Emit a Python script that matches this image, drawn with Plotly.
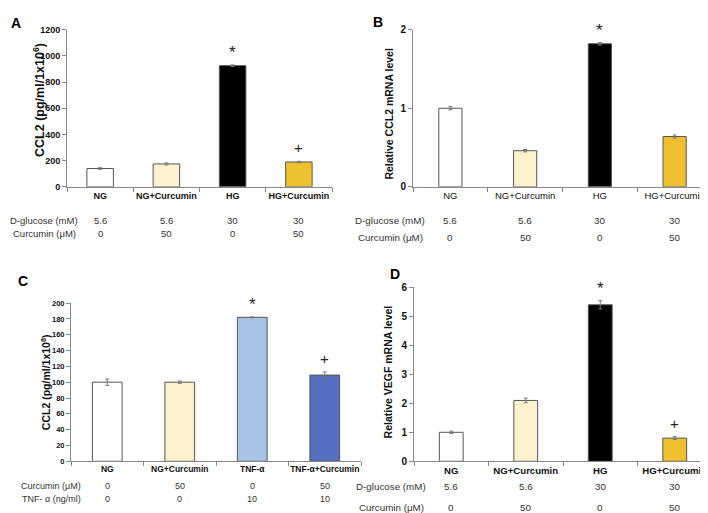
import plotly.graph_objects as go

W, H = 708, 513

# ---------------- data ----------------
cats_glu = ["NG", "NG+Curcumin", "HG", "HG+Curcumin"]
cats_tnf = ["NG", "NG+Curcumin", "TNF-α", "TNF-α+Curcumin"]

ccl2_protein = [140, 175, 925, 190]
ccl2_protein_err = [6, 8, 6, 5]

ccl2_mrna = [1.0, 0.46, 1.82, 0.64]
ccl2_mrna_err = [0.02, 0.015, 0.015, 0.02]

ccl2_tnf = [100, 100, 182, 109]
ccl2_tnf_err = [4, 1.5, 0.6, 4]

vegf_mrna = [1.0, 2.1, 5.4, 0.8]
vegf_mrna_err = [0.04, 0.08, 0.14, 0.05]

glucose_row = ["5.6", "5.6", "30", "30"]
curcumin_row = ["0", "50", "0", "50"]
tnf_row = ["0", "0", "10", "10"]
marks_full = ["", "", "*", "+"]
marks_star = ["", "", "*", ""]

colors_glu = ["#FFFFFF", "#FBF1CC", "#000000", "#EFC12F"]
colors_tnf = ["#FFFFFF", "#FBF1CC", "#A9C3E6", "#5470BF"]

FONT = "Arial, Liberation Sans, sans-serif"


def px(x):
    return x / W


def py(y):
    return 1 - y / H


fig = go.Figure()

panels = [
    dict(k="", cats=cats_glu, v=ccl2_protein, e=ccl2_protein_err, c=colors_glu, m=marks_full, bw=0.40,
         xd=(59, 324), yd=(16, 177), yr=[0, 1200], dt=200, tf=9, cf=9, cbold=True),
    dict(k="2", cats=cats_glu, v=ccl2_mrna, e=ccl2_mrna_err, c=colors_glu, m=marks_star, bw=0.31,
         xd=(405, 704), yd=(16, 177), yr=[0, 2], dt=1, tf=10, cf=9.5, cbold=False),
    dict(k="3", cats=cats_tnf, v=ccl2_tnf, e=ccl2_tnf_err, c=colors_tnf, m=marks_full, bw=0.41,
         xd=(63, 353), yd=(296, 458), yr=[0, 200], dt=20, tf=7.5, cf=8.5, cbold=True),
    dict(k="4", cats=cats_glu, v=vegf_mrna, e=vegf_mrna_err, c=colors_glu, m=marks_full, bw=0.32,
         xd=(406, 704), yd=(280, 458), yr=[0, 6], dt=1, tf=10, cf=9.6, cbold=True),
]

layout = dict(
    width=W, height=H, margin=dict(l=0, r=0, t=0, b=0),
    paper_bgcolor="white", plot_bgcolor="white", showlegend=False,
    font=dict(family=FONT, color="#222"),
)
annotations = []

for p in panels:
    k = p["k"]
    xa = "x" + k
    ya = "y" + k
    fig.add_trace(go.Bar(
        x=p["cats"], y=p["v"], xaxis=xa, yaxis=ya, width=p["bw"],
        marker=dict(color=p["c"], line=dict(color="#555555", width=1)),
        error_y=dict(type="data", array=p["e"], color="#777777", thickness=1, width=2),
        hoverinfo="skip",
    ))
    layout["xaxis" + k] = dict(
        domain=[px(p["xd"][0]), px(p["xd"][1])], anchor=ya, type="category",
        range=[-0.5, 3.5], showline=True, linecolor="#888888", linewidth=1,
        ticks="outside", tickson="boundaries", ticklen=4, tickcolor="#888888",
        tickangle=0,
        tickfont=dict(size=p["cf"], color="#111", weight="bold" if p["cbold"] else "normal"),
        showgrid=False, fixedrange=True,
    )
    layout["yaxis" + k] = dict(
        domain=[py(p["yd"][1]), py(p["yd"][0])], anchor=xa, range=p["yr"], dtick=p["dt"],
        showline=True, linecolor="#888888", linewidth=1, ticks="outside", ticklen=4,
        tickcolor="#888888", tickfont=dict(size=p["tf"], color="#111", weight="bold"),
        showgrid=False, zeroline=False, fixedrange=True,
    )
    for cat, val, err, m in zip(p["cats"], p["v"], p["e"], p["m"]):
        if m:
            annotations.append(dict(
                x=cat, y=val + err, xref=xa, yref=ya, text=m, showarrow=False,
                yanchor="bottom", yshift=1 if m == "*" else 3,
                font=dict(size=17 if m == "*" else 15, color="#222"),
            ))

# y-axis titles
ytitles = [
    ("CCL2 (pg/ml/1x10<sup>6</sup>)", 31, 88, 12.5),
    ("Relative CCL2 mRNA level", 381, 102, 10.5),
    ("CCL2 (pg/ml/1x10<sup>6</sup>)", 37, 377, 10.5),
    ("Relative VEGF mRNA level", 380, 367, 10.5),
]
for t, x, y, s in ytitles:
    annotations.append(dict(
        x=px(x), y=py(y), xref="paper", yref="paper", text="<b>" + t + "</b>",
        textangle=-90, showarrow=False, xanchor="center", yanchor="middle",
        font=dict(size=s, color="#111"),
    ))

# panel letters
for t, x, y in [("A", 8, 9), ("B", 370, 8), ("C", 15, 273), ("D", 387, 266)]:
    annotations.append(dict(
        x=px(x), y=py(y), xref="paper", yref="paper", text="<b>" + t + "</b>",
        showarrow=False, xanchor="center", yanchor="middle",
        font=dict(size=14, color="#000"),
    ))

# condition tables beneath the charts
tables = [
    ("", cats_glu, [("D-glucose (mM)", glucose_row, 211), ("Curcumin (μM)", curcumin_row, 225)], 36, 9.5),
    ("2", cats_glu, [("D-glucose (mM)", glucose_row, 211), ("Curcumin (μM)", curcumin_row, 229)], 382, 9.8),
    ("3", cats_tnf, [("Curcumin (μM)", curcumin_row, 483), ("TNF- α (ng/ml)", tnf_row, 497)], 43, 9),
    ("4", cats_glu, [("D-glucose (mM)", glucose_row, 484), ("Curcumin (μM)", curcumin_row, 505)], 383, 9.8),
]
for k, cats, rows, lx, fs in tables:
    for label, vals, y in rows:
        annotations.append(dict(
            x=px(lx), y=py(y), xref="paper", yref="paper", text=label, showarrow=False,
            xanchor="center", yanchor="middle", font=dict(size=fs, color="#333"),
        ))
        for cat, v in zip(cats, vals):
            annotations.append(dict(
                x=cat, y=py(y), xref="x" + k, yref="paper", text=v, showarrow=False,
                xanchor="center", yanchor="middle", font=dict(size=fs, color="#333"),
            ))

layout["annotations"] = annotations
fig.update_layout(**layout)
fig.write_html("out.html")
